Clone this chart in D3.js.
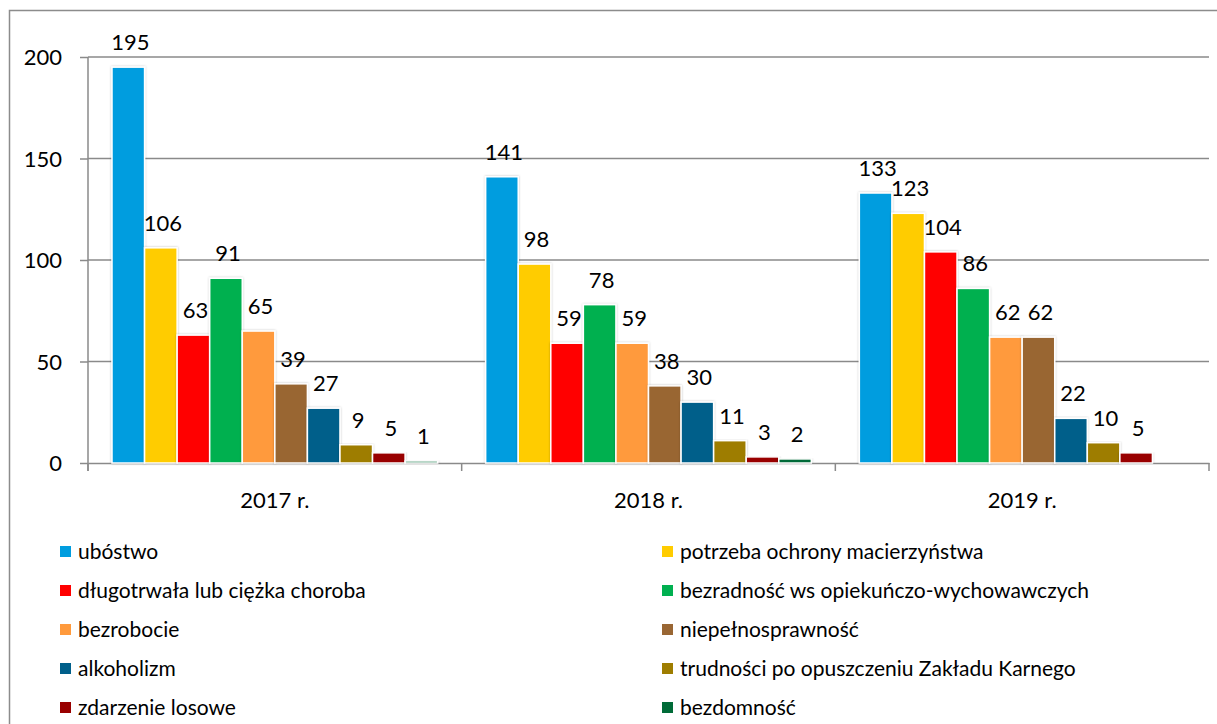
<!DOCTYPE html>
<html lang="pl">
<head>
<meta charset="UTF-8"/>
<title>Powody przyznania pomocy</title>
<script src="https://d3js.org/d3.v7.min.js"></script>
<style>
    body { margin: 0; background: #fff; }
    svg { display: block; font-family: Lato, "Open Sans", sans-serif; }
</style>
</head>
<body>
<script>
    // data
    var years = ["2017 r.", "2018 r.", "2019 r."];
    var series = ["ubóstwo", "potrzeba ochrony macierzyństwa", "długotrwała lub ciężka choroba",
        "bezradność ws opiekuńczo-wychowawczych", "bezrobocie", "niepełnosprawność",
        "alkoholizm", "trudności po opuszczeniu Zakładu Karnego", "zdarzenie losowe", "bezdomność"];
    var colors = ["#009ddf", "#ffcc00", "#ff0000", "#00b050", "#ff9a3c", "#996633",
        "#005f8a", "#9e7d00", "#990000", "#006b38"];
    var v2017 = [195, 106, 63, 91, 65, 39, 27, 9, 5, 1];
    var v2018 = [141, 98, 59, 78, 59, 38, 30, 11, 3, 2];
    var v2019 = [133, 123, 104, 86, 62, 62, 22, 10, 5, null];
    var yTicks = [0, 50, 100, 150, 200];

    var values = [v2017, v2018, v2019];

    var w = 1217, h = 724;
    var plotLeft = 88, plotRight = 1209, plotTop = 57, plotBottom = 463;

    var svg = d3.select("body").append("svg")
        .attr("width", w)
        .attr("height", h);

    // outer frame (only top and left visible)
    svg.append("rect")
        .attr("x", 9.5).attr("y", 10.5)
        .attr("width", 1300).attr("height", 800)
        .attr("fill", "none")
        .attr("stroke", "#8c8c8c")
        .attr("stroke-width", 1.5);

    var x0 = d3.scaleBand().domain(years).range([plotLeft, plotRight]);
    var x1 = d3.scaleBand().domain(d3.range(series.length))
        .range([24, x0.bandwidth() - 24]);
    var y = d3.scaleLinear().domain([0, 200]).range([plotBottom, plotTop]);

    // grid
    svg.selectAll("line.grid")
        .data(yTicks.slice(1))
        .enter().append("line")
        .attr("class", "grid")
        .attr("x1", plotLeft).attr("x2", plotRight)
        .attr("y1", function(d) { return y(d); })
        .attr("y2", function(d) { return y(d); })
        .attr("stroke", "#8a8a8a")
        .attr("stroke-width", 1.5);

    // y axis
    var yAxis = d3.axisLeft(y).tickValues(yTicks).tickSize(8).tickPadding(18);
    var gy = svg.append("g")
        .attr("transform", "translate(" + plotLeft + ",0)")
        .call(yAxis);
    gy.select(".domain").attr("stroke", "#8a8a8a").attr("stroke-width", 1.5)
        .attr("d", "M0," + (plotBottom + 8) + "V" + plotTop);
    gy.selectAll(".tick line").attr("stroke", "#8a8a8a").attr("stroke-width", 1.5);
    gy.selectAll(".tick text").attr("font-size", 22).attr("fill", "#000")
        .attr("font-family", "Lato, sans-serif").attr("dy", "0.35em");

    // x axis
    var xAxis = d3.axisBottom(x0).tickSize(0).tickPadding(29);
    var gx = svg.append("g")
        .attr("transform", "translate(0," + plotBottom + ")")
        .call(xAxis);
    gx.select(".domain").attr("stroke", "#8a8a8a").attr("stroke-width", 1.5);
    gx.selectAll(".tick text").attr("font-size", 22).attr("fill", "#000")
        .attr("font-family", "Lato, sans-serif");
    // category boundary ticks
    gx.selectAll("line.sep")
        .data(years.concat(["end"]))
        .enter().append("line")
        .attr("class", "sep")
        .attr("x1", function(d, i) { return plotLeft + i * x0.bandwidth(); })
        .attr("x2", function(d, i) { return plotLeft + i * x0.bandwidth(); })
        .attr("y1", 0).attr("y2", 8)
        .attr("stroke", "#8a8a8a").attr("stroke-width", 1.5);

    var defs = svg.append("defs");
    var f = defs.append("filter").attr("id", "sh").attr("x", "-20%").attr("y", "-5%")
        .attr("width", "140%").attr("height", "110%");
    f.append("feDropShadow").attr("dx", 0).attr("dy", 0).attr("stdDeviation", 1.2)
        .attr("flood-color", "#000").attr("flood-opacity", 0.25);

    // bars
    var groups = svg.selectAll("g.year")
        .data(values)
        .enter().append("g")
        .attr("class", "year")
        .attr("transform", function(d, i) { return "translate(" + x0(years[i]) + ",0)"; });

    groups.selectAll("rect")
        .data(function(d) {
            return d.map(function(v, i) { return { v: v, i: i }; })
                .filter(function(e) { return e.v !== null; });
        })
        .enter().append("rect")
        .attr("x", function(d) { return x1(d.i); })
        .attr("y", function(d) { return y(d.v); })
        .attr("width", x1.bandwidth())
        .attr("height", function(d) { return plotBottom - y(d.v); })
        .attr("fill", function(d) { return colors[d.i]; })
        .attr("stroke", "#fff")
        .attr("stroke-width", 1.5)
        .attr("filter", "url(#sh)");

    groups.selectAll("text.lbl")
        .data(function(d) {
            return d.map(function(v, i) { return { v: v, i: i }; })
                .filter(function(e) { return e.v !== null; });
        })
        .enter().append("text")
        .attr("class", "lbl")
        .attr("x", function(d) { return x1(d.i) + x1.bandwidth() / 2 + 2; })
        .attr("y", function(d) { return y(d.v) - 17; })
        .attr("text-anchor", "middle")
        .attr("font-size", 22)
        .attr("fill", "#000")
        .text(function(d) { return d.v; });

    // legend
    var legend = svg.selectAll("g.leg")
        .data(series)
        .enter().append("g")
        .attr("class", "leg")
        .attr("transform", function(d, i) {
            var col = i % 2, row = Math.floor(i / 2);
            return "translate(" + (col === 0 ? 60 : 662) + "," + (559 + row * 39) + ")";
        });

    legend.append("rect")
        .attr("x", 0).attr("y", -13)
        .attr("width", 11).attr("height", 11)
        .attr("fill", function(d, i) { return colors[i]; });

    legend.append("text")
        .attr("x", 18).attr("y", 0)
        .attr("font-size", 21)
        .attr("fill", "#000")
        .text(function(d) { return d; });
</script>
</body>
</html>
